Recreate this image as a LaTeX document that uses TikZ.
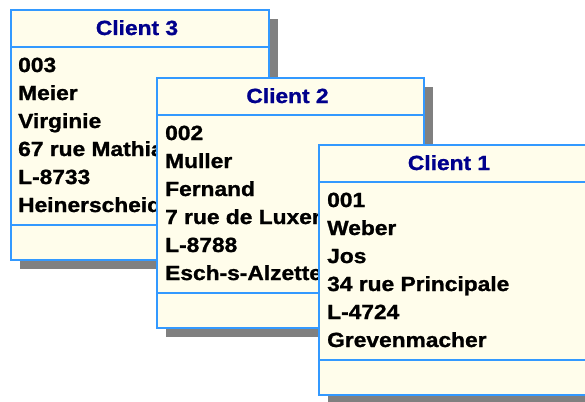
\documentclass[tikz,border=0pt]{standalone}
\usepackage{fontspec}
\setmainfont{Liberation Sans}[FakeStretch=1.11,FakeBold=1.2]
\usetikzlibrary{shadows}
\definecolor{cream}{RGB}{255,253,235}
\definecolor{umlblue}{RGB}{51,153,255}
\definecolor{navytitle}{RGB}{0,0,140}
\definecolor{shadowgray}{RGB}{128,128,128}
\begin{document}
\begin{tikzpicture}[x=1pt,y=-1pt,
  classbox/.style={draw=umlblue, line width=2pt, fill=cream, anchor=north west,
    inner sep=0pt, minimum height=250pt,
    drop shadow={shadow xshift=9pt, shadow yshift=-9pt, fill=shadowgray, opacity=1}},
  sepline/.style={draw=umlblue, line width=2pt},
  titletext/.style={anchor=base, inner sep=0pt, text=navytitle,
    font=\fontsize{20.5pt}{20.5pt}\selectfont\bfseries},
  attrtext/.style={anchor=base west, inner sep=0pt, text=black,
    font=\fontsize{20.5pt}{20.5pt}\selectfont\bfseries}]
\useasboundingbox (0,0) rectangle (585,401);
\clip (0,0) rectangle (585,401);
\fill[white] (0,0) rectangle (585,401);

% Client 3
\node[classbox, minimum width=258pt] (c3) at (10,9) {};
\draw[sepline] ([yshift=-38pt]c3.north west) -- ([yshift=-38pt]c3.north east);
\draw[sepline] ([yshift=36pt]c3.south west) -- ([yshift=36pt]c3.south east);
\node[titletext] (c3t) at (137,35) {Client 3};
\node[attrtext] (c3a) at (18,72) {003};
\node[attrtext] (c3b) at (18,100) {Meier};
\node[attrtext] (c3c) at (18,128) {Virginie};
\node[attrtext] (c3d) at (18,156) {67 rue Mathia};
\node[attrtext] (c3e) at (18,184) {L-8733};
\node[attrtext] (c3f) at (18,212) {Heinerscheid};

% Client 2
\node[classbox, minimum width=267pt] (c2) at (156,77) {};
\draw[sepline] ([yshift=-38pt]c2.north west) -- ([yshift=-38pt]c2.north east);
\draw[sepline] ([yshift=36pt]c2.south west) -- ([yshift=36pt]c2.south east);
\node[titletext] (c2t) at (287.5,103) {Client 2};
\node[attrtext] (c2a) at (165,140) {002};
\node[attrtext] (c2b) at (165,168) {Muller};
\node[attrtext] (c2c) at (165,196) {Fernand};
\node[attrtext] (c2d) at (165,224) {7 rue de Luxem};
\node[attrtext] (c2e) at (165,252) {L-8788};
\node[attrtext] (c2f) at (165,280) {Esch-s-Alzette};

% Client 1
\node[classbox, minimum width=270pt] (c1) at (318,144) {};
\draw[sepline] ([yshift=-38pt]c1.north west) -- ([yshift=-38pt]c1.north east);
\draw[sepline] ([yshift=36pt]c1.south west) -- ([yshift=36pt]c1.south east);
\node[titletext] (c1t) at (449,170) {Client 1};
\node[attrtext] (c1a) at (327,207) {001};
\node[attrtext] (c1b) at (327,235) {Weber};
\node[attrtext] (c1c) at (327,263) {Jos};
\node[attrtext] (c1d) at (327,291) {34 rue Principale};
\node[attrtext] (c1e) at (327,319) {L-4724};
\node[attrtext] (c1f) at (327,347) {Grevenmacher};
\end{tikzpicture}
\end{document}
